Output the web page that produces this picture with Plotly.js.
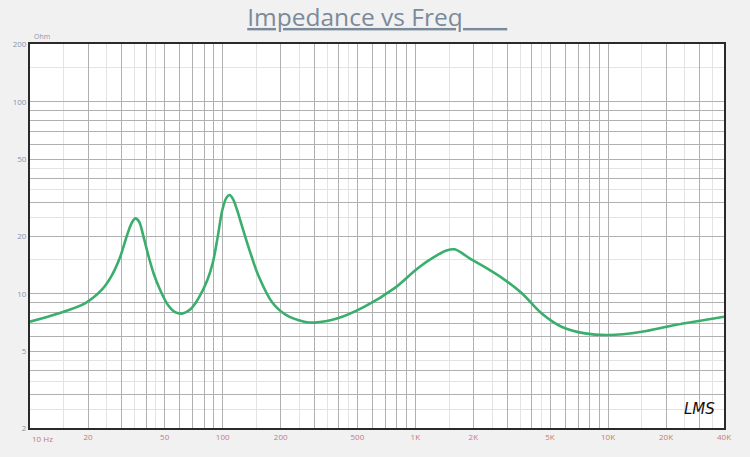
<!DOCTYPE html>
<html>
<head>
<meta charset="utf-8">
<script src="https://cdn.plot.ly/plotly-3.0.1.min.js"></script>
<style>
  html, body { margin: 0; padding: 0; background: #f1f1f1; }
  #chart { width: 750px; height: 457px; }
</style>
</head>
<body>
<div id="chart"></div>
<script>
// Impedance curve (Hz, Ohm)
const freqHz = [10, 14, 19.3, 23.6, 26.5, 29.4, 31.8, 33.6, 35.2, 36.8, 39, 41.3, 44, 47.5, 52, 57, 62,
  68, 75, 83.3, 89, 94, 99.6, 104.5, 108.7, 113, 119, 126, 138, 154, 181, 213, 265, 299, 395, 545, 780,
  1030, 1260, 1450, 1600, 1950, 2400, 2850, 3570, 4530, 5740, 7600, 10100, 14960, 22300, 40000];
const impedanceOhm = [7.16, 7.9, 8.92, 10.5, 12.4, 15.6, 20.0, 23.2, 24.7, 23.8, 19.5, 15.6, 12.6, 10.4, 8.75, 8.0, 7.9,
  8.3, 9.5, 11.8, 14.6, 19.5, 27.3, 31.6, 32.7, 31.2, 27.2, 22.5, 16.8, 12.3, 9.0, 7.76, 7.16, 7.08, 7.45, 8.57, 10.7,
  13.6, 15.6, 16.8, 17.05, 15.1, 13.4, 12.0, 10.06, 7.9, 6.74, 6.22, 6.1, 6.35, 6.88, 7.6];

const xTickVals = [10, 20, 50, 100, 200, 500, 1000, 2000, 5000, 10000, 20000, 40000];
const xTickText = ['', '20', '50', '100', '200', '500', '1K', '2K', '5K', '10K', '20K', '40K'];
const yTickVals = [2, 5, 10, 20, 50, 100, 200];
const yTickText = ['2', '5', '10', '20', '50', '100', '200'];

// grid lines: every 1..9 of each decade, plus faint half steps
function decadeGrid(lo, hi, steps) {
  const out = [];
  for (let d = lo; d <= hi; d *= 10) {
    steps.forEach((s) => { if (s * d <= hi * 1.0001) out.push(s * d); });
  }
  return out;
}

function labelled(gridVals, vals, texts) {
  return gridVals.map((v) => {
    const i = vals.findIndex((t) => Math.abs(t - v) / v < 1e-6);
    return i >= 0 ? texts[i] : '';
  });
}

const xGrid = decadeGrid(10, 40000, [1, 2, 3, 4, 5, 6, 7, 8, 9]);
const yMajor = [2, 3, 4, 5, 6, 7, 8, 9, 10, 20, 30, 40, 50, 60, 70, 80, 90, 100, 200];
const xMinor = decadeGrid(10, 40000, [1.5, 2.5, 3.5, 4.5]);
const yMinor = [2.5, 3.5, 4.5, 15, 25, 35, 45, 150];

const trace = {
  x: freqHz,
  y: impedanceOhm,
  mode: 'lines',
  line: { color: '#3aae6c', width: 2.6, shape: 'spline', smoothing: 0.9 },
  hoverinfo: 'x+y',
};

const gridColor = '#b0b0b0';
const minorColor = '#e3e3e3';

const layout = {
  width: 750,
  height: 457,
  paper_bgcolor: '#f1f1f1',
  plot_bgcolor: '#ffffff',
  margin: { l: 30, r: 26, t: 44, b: 29 },
  showlegend: false,
  title: {
    text: '<u>Impedance vs Freq\u00a0\u00a0\u00a0\u00a0\u00a0\u00a0\u00a0</u>',
    font: { family: 'Open Sans, sans-serif', size: 24.5, color: '#7b8a9a' },
    x: 0.503,
    xanchor: 'center',
    y: 0.962,
    yanchor: 'middle',
  },
  xaxis: {
    type: 'log',
    range: [1, Math.log10(40000)],
    tickmode: 'array',
    tickvals: xGrid,
    ticktext: labelled(xGrid, xTickVals, xTickText),
    ticks: '',
    showgrid: true,
    gridcolor: gridColor,
    gridwidth: 1,
    minor: { tickmode: 'array', tickvals: xMinor, showgrid: true, gridcolor: minorColor, gridwidth: 1, ticks: '' },
    tickfont: { family: 'Open Sans, sans-serif', size: 8, color: '#c47a80' },
    showline: true,
    linecolor: '#2a2a2a',
    linewidth: 2,
    mirror: true,
    zeroline: false,
    fixedrange: true,
  },
  yaxis: {
    type: 'log',
    range: [Math.log10(2), Math.log10(200)],
    tickmode: 'array',
    tickvals: yMajor,
    ticktext: labelled(yMajor, yTickVals, yTickText),
    ticks: '',
    showgrid: true,
    gridcolor: gridColor,
    gridwidth: 1,
    minor: { tickmode: 'array', tickvals: yMinor, showgrid: true, gridcolor: minorColor, gridwidth: 1, ticks: '' },
    tickfont: { family: 'Open Sans, sans-serif', size: 8, color: '#8796b0' },
    showline: true,
    linecolor: '#2a2a2a',
    linewidth: 2,
    mirror: true,
    zeroline: false,
    fixedrange: true,
  },
  annotations: [
    {
      text: '10 Hz',
      xref: 'paper', yref: 'paper',
      x: 0, y: 0,
      xanchor: 'left', yanchor: 'top',
      yshift: -3,
      showarrow: false,
      font: { family: 'Open Sans, sans-serif', size: 8, color: '#c47a80' },
    },
    {
      text: 'Ohm',
      xref: 'paper', yref: 'paper',
      x: 0, y: 1,
      xanchor: 'left', yanchor: 'bottom',
      xshift: 2, yshift: 1,
      showarrow: false,
      font: { family: 'Open Sans, sans-serif', size: 7, color: '#8796b0' },
    },
    {
      text: '<i>LMS</i>',
      xref: 'paper', yref: 'paper',
      x: 0.99, y: 0.02,
      xanchor: 'right', yanchor: 'bottom',
      showarrow: false,
      font: { family: 'DejaVu Sans, sans-serif', size: 15, color: '#111111' },
    },
  ],
};

Plotly.newPlot('chart', [trace], layout, { displayModeBar: false, staticPlot: true });
</script>
</body>
</html>
